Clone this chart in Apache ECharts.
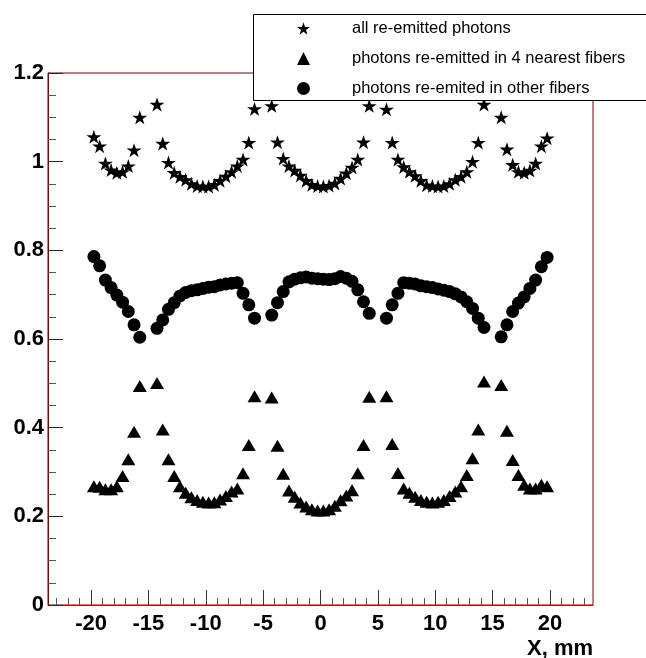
<!DOCTYPE html>
<html>
<head>
<meta charset="utf-8">
<script src="https://cdn.jsdelivr.net/npm/echarts@6/dist/echarts.min.js"></script>
<style>html,body{margin:0;padding:0;background:#fff;}#c{width:646px;height:658px;}</style>
</head>
<body>
<div id="c"></div>
<script>
// x positions (mm)
const xPos = [-19.75,-19.25,-18.75,-18.25,-17.75,-17.25,-16.75,-16.25,-15.75,
  -14.25,-13.75,-13.25,-12.75,-12.25,-11.75,-11.25,-10.75,-10.25,-9.75,-9.25,-8.75,-8.25,-7.75,-7.25,-6.75,-6.25,-5.75,
  -4.25,-3.75,-3.25,-2.75,-2.25,-1.75,-1.25,-0.75,-0.25,0.25,0.75,1.25,1.75,2.25,2.75,3.25,3.75,4.25,
  5.75,6.25,6.75,7.25,7.75,8.25,8.75,9.25,9.75,10.25,10.75,11.25,11.75,12.25,12.75,13.25,13.75,14.25,
  15.75,16.25,16.75,17.25,17.75,18.25,18.75,19.25,19.75];
// all re-emitted photons (stars)
const allPhotons = [1.056,1.035,0.996,0.981,0.975,0.977,0.990,1.026,1.100,
  1.129,1.041,0.998,0.975,0.966,0.959,0.950,0.945,0.944,0.944,0.948,0.957,0.967,0.977,0.990,1.005,1.043,1.119,
  1.126,1.044,1.007,0.990,0.980,0.969,0.957,0.948,0.945,0.944,0.946,0.951,0.962,0.974,0.987,1.005,1.044,1.126,
  1.118,1.043,1.005,0.988,0.977,0.968,0.957,0.947,0.945,0.944,0.945,0.950,0.959,0.966,0.977,1.000,1.043,1.129,
  1.100,1.028,0.993,0.977,0.975,0.980,0.996,1.035,1.053];
// photons re-emitted in 4 nearest fibers (triangles)
const nearest4 = [0.268,0.267,0.261,0.261,0.268,0.291,0.329,0.391,0.494,
  0.501,0.396,0.329,0.291,0.268,0.253,0.243,0.237,0.233,0.231,0.232,0.238,0.246,0.256,0.263,0.297,0.361,0.471,
  0.468,0.359,0.296,0.258,0.244,0.231,0.222,0.216,0.213,0.213,0.216,0.224,0.236,0.247,0.259,0.297,0.361,0.470,
  0.471,0.363,0.298,0.263,0.253,0.244,0.237,0.233,0.231,0.233,0.237,0.246,0.256,0.268,0.293,0.331,0.396,0.504,
  0.496,0.393,0.327,0.293,0.271,0.263,0.263,0.271,0.268];
// photons re-emitted in other fibers (circles)
const otherFibers = [0.786,0.765,0.733,0.716,0.699,0.683,0.662,0.632,0.604,
  0.624,0.643,0.667,0.682,0.697,0.705,0.709,0.711,0.714,0.717,0.718,0.722,0.724,0.726,0.727,0.703,0.677,0.647,
  0.654,0.682,0.707,0.729,0.735,0.738,0.740,0.737,0.736,0.735,0.734,0.736,0.741,0.737,0.730,0.711,0.684,0.658,
  0.647,0.677,0.703,0.727,0.726,0.724,0.720,0.718,0.716,0.713,0.710,0.707,0.702,0.695,0.684,0.669,0.647,0.626,
  0.605,0.632,0.662,0.681,0.695,0.714,0.733,0.763,0.784];
const seriesNames = ['all re-emitted photons','photons re-emitted in 4 nearest fibers','photons re-emited in other fibers'];
const xMajorTicks = [-20,-15,-10,-5,0,5,10,15,20];
const xMinorTicks = [-23,-22,-21,-19,-18,-17,-16,-14,-13,-12,-11,-9,-8,-7,-6,-4,-3,-2,-1,1,2,3,4,6,7,8,9,11,12,13,14,16,17,18,19,21,22,23];
const xTitle = 'X, mm';

const STAR = 'path://M50,0 L61.2,34.5 L97.6,34.5 L68.2,55.9 L79.4,90.5 L50,69.1 L20.6,90.5 L31.8,55.9 L2.4,34.5 L38.8,34.5 Z';
const pair = (ys) => xPos.map((x, i) => [x, ys[i]]);
const FONT = 'Liberation Sans, Arial, Helvetica, sans-serif';
const mark = {color: '#000', opacity: 1};

const chart = echarts.init(document.getElementById('c'), null, {renderer: 'canvas'});
chart.setOption({
  animation: false,
  backgroundColor: '#fff',
  grid: {left: 48, right: 53, top: 73, bottom: 53, containLabel: false, outerBoundsMode: 'none',
    show: true, borderColor: '#800000', borderWidth: 1, backgroundColor: '#fff'},
  xAxis: [{
    type: 'value', min: -23.75, max: 23.75, position: 'bottom',
    axisLine: {show: true, onZero: false, lineStyle: {color: '#e00000', width: 1}},
    axisTick: {show: true, inside: true, length: 15, customValues: xMajorTicks, lineStyle: {color: '#333'}},
    axisLabel: {customValues: xMajorTicks, color: '#000', fontFamily: FONT, fontWeight: 'bold', fontSize: 22, margin: 8},
    splitLine: {show: false}
  }, {
    type: 'value', min: -23.75, max: 23.75, position: 'bottom',
    axisLine: {show: false, onZero: false},
    axisTick: {show: true, inside: true, length: 7, customValues: xMinorTicks, lineStyle: {color: '#555'}},
    axisLabel: {show: false},
    splitLine: {show: false}
  }],
  yAxis: {
    type: 'value', min: 0, max: 1.2, interval: 0.2, position: 'left',
    axisLine: {show: true, onZero: false, lineStyle: {color: '#800000', width: 1}},
    axisTick: {show: true, inside: true, length: 15, lineStyle: {color: '#222'}},
    minorTick: {show: true, splitNumber: 4, length: 8, lineStyle: {color: '#555'}},
    axisLabel: {color: '#000', fontFamily: FONT, fontWeight: 'bold', fontSize: 22, margin: 4},
    splitLine: {show: false}
  },
  legend: {
    orient: 'vertical', left: 292, top: 15, itemWidth: 13, itemHeight: 13, itemGap: 13, z: 30,
    data: seriesNames,
    textStyle: {color: '#000', fontFamily: FONT, fontSize: 16.5, padding: [0, 0, 0, 37]}
  },
  graphic: [
    {type: 'rect', z: 20, shape: {x: 253.5, y: 14.5, width: 420, height: 86},
      style: {fill: '#fff', stroke: '#000', lineWidth: 1}},
    {type: 'text', z: 20, style: {text: xTitle, x: 593, y: 649, align: 'right', verticalAlign: 'middle',
      font: 'bold 22px ' + FONT, fill: '#000'}}
  ],
  series: [
    {name: seriesNames[0], type: 'scatter', symbol: STAR, symbolSize: [15, 14], data: pair(allPhotons),
      itemStyle: mark},
    {name: seriesNames[1], type: 'scatter', symbol: 'triangle', symbolSize: [14, 12], data: pair(nearest4),
      itemStyle: mark},
    {name: seriesNames[2], type: 'scatter', symbol: 'circle', symbolSize: 13, data: pair(otherFibers),
      itemStyle: mark}
  ]
});
</script>
</body>
</html>
